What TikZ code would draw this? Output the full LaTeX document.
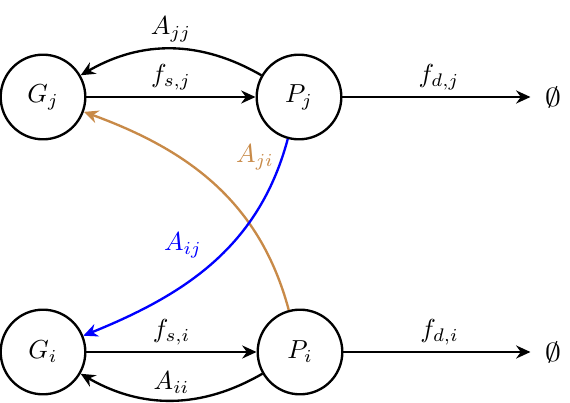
\documentclass[tikz,border=0pt]{standalone}
\usetikzlibrary{arrows.meta}
\definecolor{ajibrown}{RGB}{200,138,72}
\newcommand{\myempty}{\scalebox{1.25}[1]{$\emptyset$}}
\begin{document}
\begin{tikzpicture}[x=0.384pt,y=-0.384pt,
  state/.style={circle,draw,line width=0.9pt,minimum size=32.5pt,inner sep=0pt},
  arr/.style={-{Stealth[length=5.5pt,width=5pt]},line width=0.9pt},
  lab/.style={inner sep=2.3pt}]
\useasboundingbox (0,0) rectangle (570,402);
\node[state] (Gj) at (43,97) {$G_j$};
\node[state] (Pj) at (299,97) {$P_j$};
\node[state] (Gi) at (43,352) {$G_i$};
\node[state] (Pi) at (300,352) {$P_i$};
\node (Ej) at (553,97) {\myempty};
\node (Ei) at (553,352) {\myempty};
\draw[arr] (Gj) -- node[lab,above] (lsj) {$f_{s,j}$} (Pj);
\draw[arr,shorten >=2pt] (Pj) -- node[lab,above] (ldj) {$f_{d,j}$} (Ej);
\draw[arr] (Gi) -- node[lab,above] (lsi) {$f_{s,i}$} (Pi);
\draw[arr,shorten >=2pt] (Pi) -- node[lab,above] (ldi) {$f_{d,i}$} (Ei);
\draw[arr] (Pj) to[out=150,in=30] node[lab,above] (ljj) {$A_{jj}$} (Gj);
\draw[arr] (Pi) to[out=210,in=-30] node[lab,above] (lii) {$A_{ii}$} (Gi);
\draw[arr,ajibrown] (Pi) to[out=105,in=-20] (Gj);
\draw[arr,blue] (Pj) to[out=-105,in=22] (Gi);
\node[text=ajibrown] (lji) at (255,157) {$A_{ji}$};
\node[text=blue] (lij) at (183,245) {$A_{ij}$};
\end{tikzpicture}
\end{document}
